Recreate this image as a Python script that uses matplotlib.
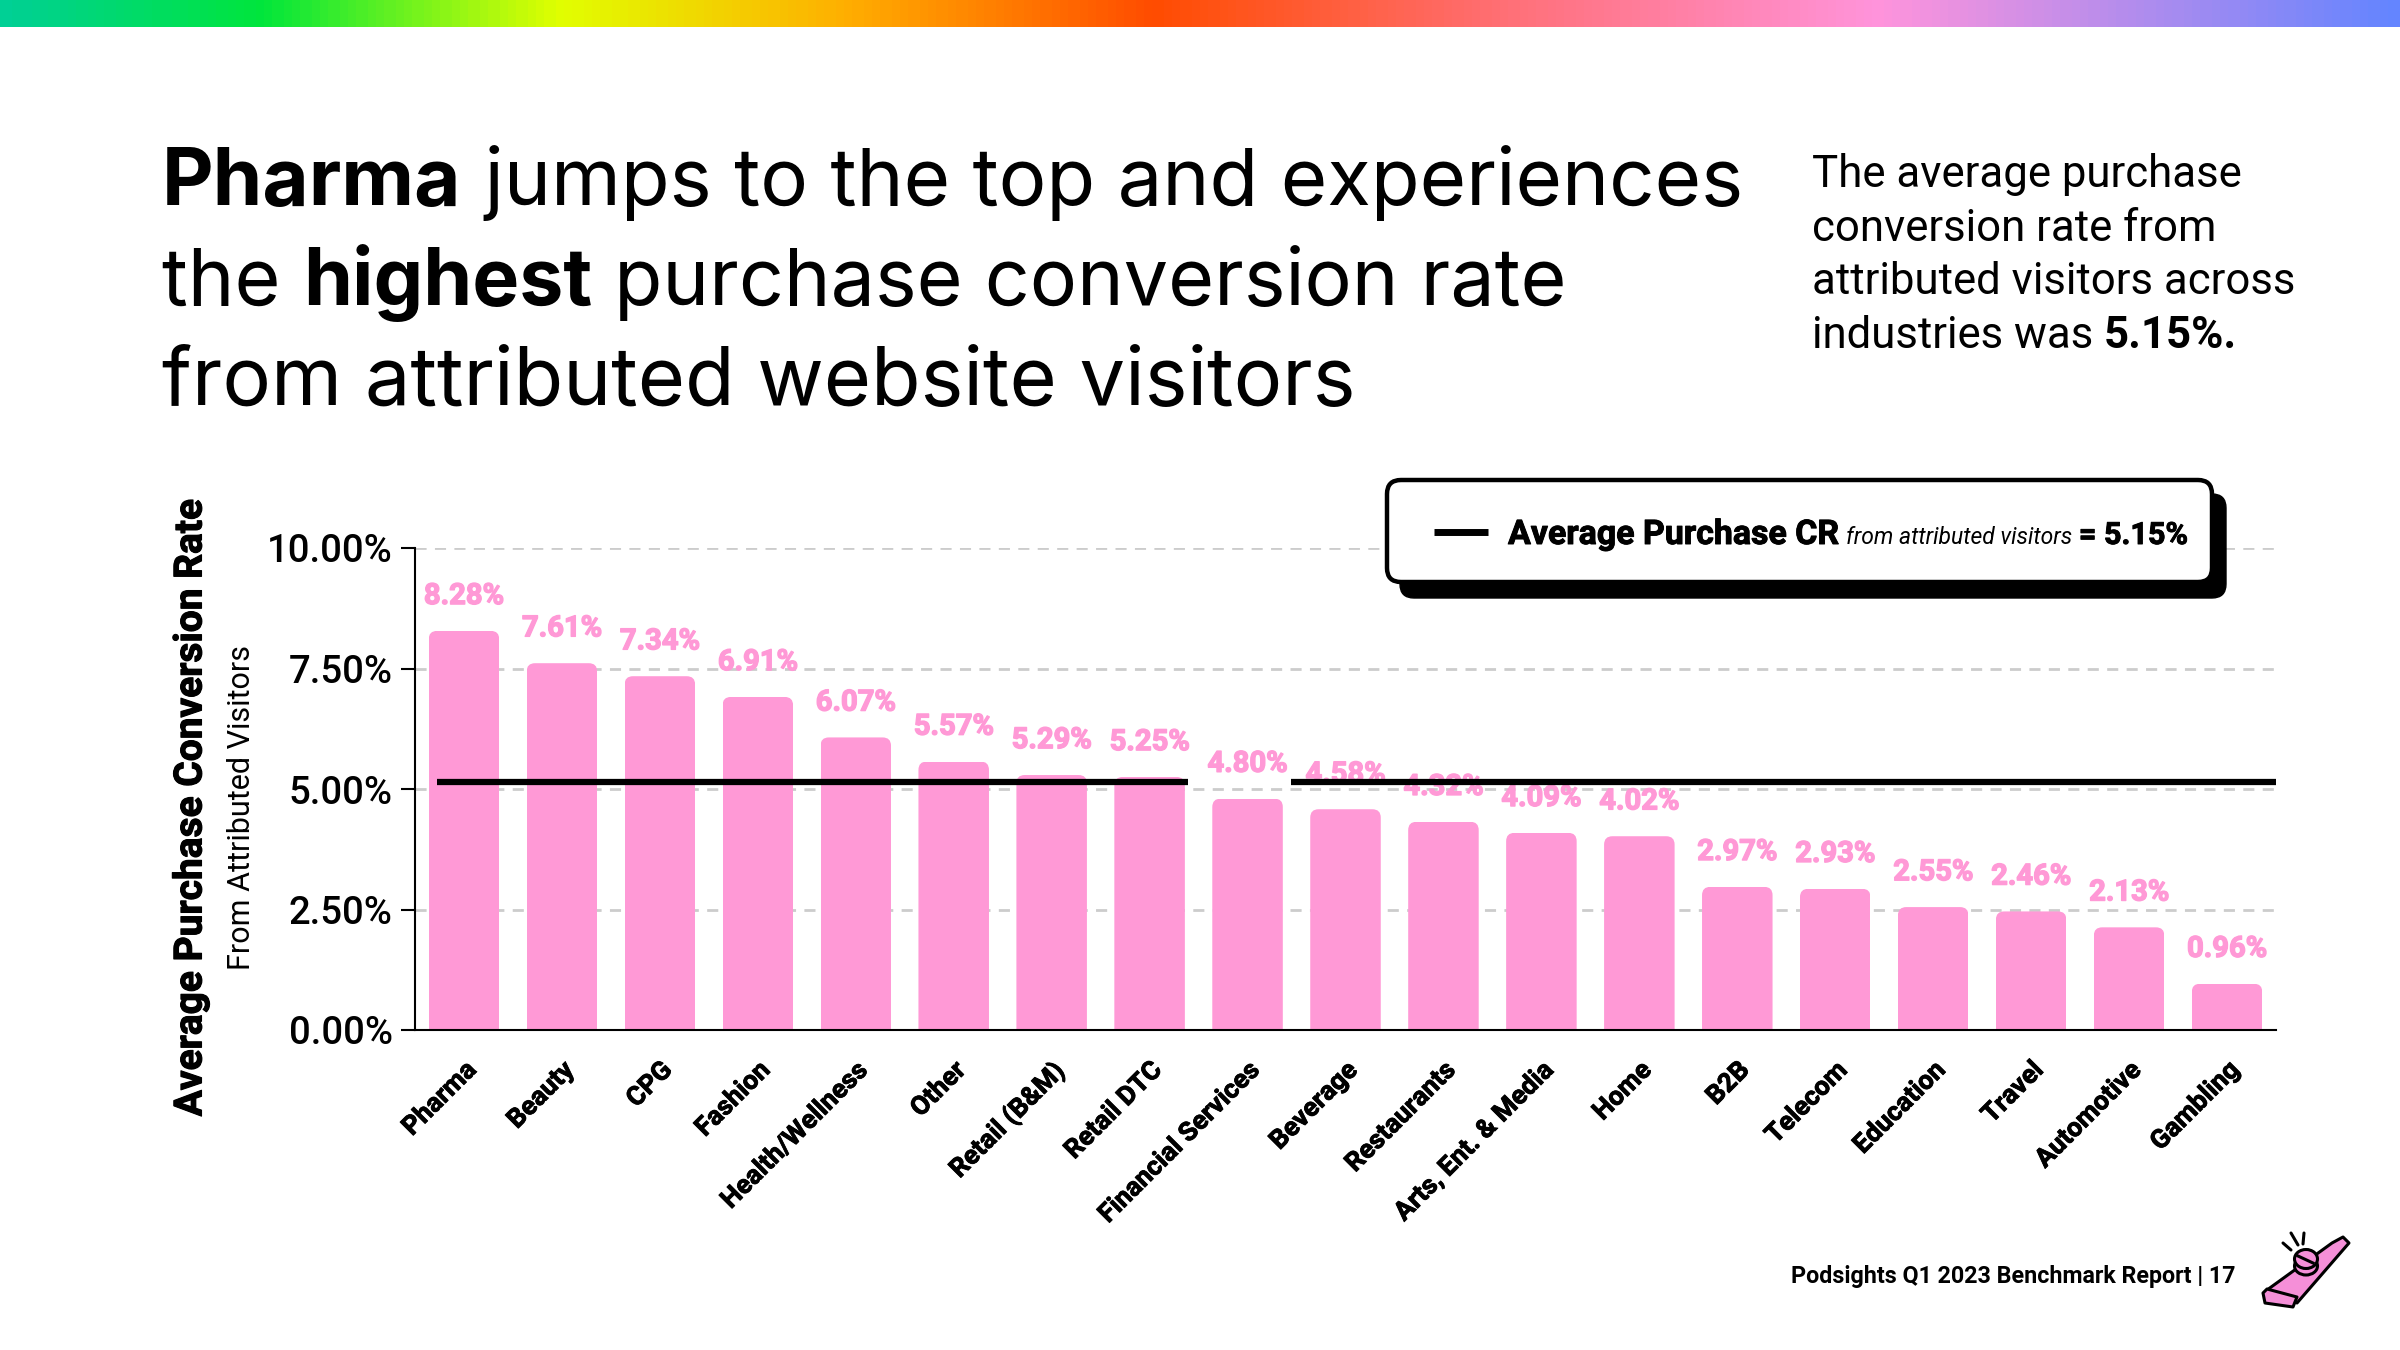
import matplotlib
matplotlib.use("Agg")
import matplotlib.pyplot as plt
import matplotlib.patheffects as pe
import numpy as np
from matplotlib.colors import LinearSegmentedColormap
from matplotlib.patches import FancyBboxPatch, Polygon, Ellipse

FONT = "Inter"
TIGHT_FONT = "Roboto"
PINK = "#FF99D6"
INK = "#000000"
GRID_COLOR = "#CCCCCC"

industries = ["Pharma", "Beauty", "CPG", "Fashion", "Health/Wellness", "Other",
              "Retail (B&M)", "Retail DTC", "Financial Services", "Beverage",
              "Restaurants", "Arts, Ent. & Media", "Home", "B2B", "Telecom",
              "Education", "Travel", "Automotive", "Gambling"]
purchase_cr = [8.28, 7.61, 7.34, 6.91, 6.07, 5.57, 5.29, 5.25, 4.80, 4.58,
               4.32, 4.09, 4.02, 2.97, 2.93, 2.55, 2.46, 2.13, 0.96]
average_cr = 5.15
y_ticks = [0, 2.5, 5, 7.5, 10]

plt.rcParams["font.family"] = [FONT, "DejaVu Sans"]

fig = plt.figure(figsize=(24, 13.5), dpi=100, facecolor="white")

# page overlay in pixel coordinates, y going down
page = fig.add_axes([0, 0, 1, 1], zorder=5)
page.set_xlim(0, 2400)
page.set_ylim(1350, 0)
page.axis("off")
page.patch.set_alpha(0)

rainbow = LinearSegmentedColormap.from_list("rainbow", [
    (0.0, "#00D095"), (0.107, "#00E63C"), (0.232, "#E2FF00"), (0.35, "#FFB000"),
    (0.48, "#FF4C00"), (0.63, "#FF7078"), (0.785, "#FF94DC"), (1.0, "#6485FF")])
page.imshow(np.linspace(0, 1, 600).reshape(1, -1), cmap=rainbow, aspect="auto",
            extent=(0, 2400, 27, 0), zorder=1)
page.set_xlim(0, 2400)
page.set_ylim(1350, 0)


def write_runs(x, y, runs, family=FONT, stroke=0):
    # runs of (text, weight, size, style) laid out one after the other
    renderer = fig.canvas.get_renderer()
    for text, weight, size, style in runs:
        t = page.text(x, y, text, fontsize=size, fontweight=weight, fontstyle=style,
                      family=family, color=INK, ha="left", va="baseline", zorder=6)
        if stroke:
            t.set_path_effects([pe.withStroke(linewidth=stroke, foreground=INK)])
        x += t.get_window_extent(renderer).width
    return x


write_runs(162, 205, [("Pharma", "bold", 57.5, "normal"),
                      (" jumps to the top and experiences", "normal", 57.5, "normal")])
write_runs(162, 305, [("the ", "normal", 56.8, "normal"), ("highest", "bold", 56.8, "normal"),
                      (" purchase conversion rate", "normal", 56.8, "normal")])
write_runs(162, 405, [("from attributed website visitors", "normal", 58.4, "normal")])

SIDE_SIZE = 31.5
write_runs(1812, 187, [("The average purchase", "normal", SIDE_SIZE, "normal")], TIGHT_FONT)
write_runs(1812, 241, [("conversion rate from", "normal", SIDE_SIZE, "normal")], TIGHT_FONT)
write_runs(1812, 294, [("attributed visitors across", "normal", SIDE_SIZE, "normal")], TIGHT_FONT)
write_runs(1812, 348, [("industries was ", "normal", SIDE_SIZE, "normal"),
                       ("5.15%.", "bold", SIDE_SIZE, "normal")], TIGHT_FONT)

# chart
ax = fig.add_axes([415 / 2400, 1 - 1030 / 1350, (2276 - 415) / 2400, (1030 - 548) / 1350], zorder=2)
x_pos = np.arange(len(industries))
bar_width = 0.72
bars = ax.bar(x_pos, purchase_cr, width=bar_width, color=PINK, zorder=2)
ax.set_xlim(-0.5, len(industries) - 0.5)
ax.set_ylim(0, 10)

# rounded top corners, bottom corners hang below the axis
for bar, value, x in zip(bars, purchase_cr, x_pos):
    rounded = FancyBboxPatch((x - bar_width / 2, -0.5), bar_width, value + 0.5,
                             boxstyle="round,pad=0,rounding_size=0.085",
                             mutation_aspect=2.03, transform=ax.transData)
    bar.set_clip_path(rounded)

for x, value in zip(x_pos, purchase_cr):
    label = ax.annotate(f"{value:.2f}%", (x, value), xytext=(0, 15), textcoords="offset points",
                        ha="center", va="bottom", fontsize=21, fontweight="bold", family=TIGHT_FONT,
                        color=PINK, zorder=3)
    label.set_path_effects([pe.withStroke(linewidth=1, foreground=PINK)])

# average line has a gap above Financial Services
ax.plot([-0.28, 7.39], [average_cr, average_cr], color=INK, linewidth=4.5, solid_capstyle="butt", zorder=4)
ax.plot([8.44, 18.5], [average_cr, average_cr], color=INK, linewidth=4.5, solid_capstyle="butt", zorder=4)

ax.set_yticks(y_ticks)
ax.set_yticklabels([f"{v:.2f}%" for v in y_ticks], fontsize=27.5, fontweight="medium", family=TIGHT_FONT)
ax.set_xticks(x_pos)
ax.set_xticklabels(industries, rotation=45, ha="right", rotation_mode="anchor",
                   fontsize=19, fontweight="bold", family=TIGHT_FONT)
for tick_label in ax.get_xticklabels():
    tick_label.set_path_effects([pe.withStroke(linewidth=0.6, foreground=INK)])
ax.tick_params(axis="y", length=10, width=1.5, pad=6)
ax.tick_params(axis="x", length=0, pad=20)
ax.yaxis.grid(True, color=GRID_COLOR, linestyle=(0, (4, 3)), linewidth=2, zorder=1)
ax.set_axisbelow(True)
for side in ["top", "right"]:
    ax.spines[side].set_visible(False)
for side in ["left", "bottom"]:
    ax.spines[side].set_linewidth(1.5)

y_title = page.text(191, 808, "Average Purchase Conversion Rate", rotation=90, ha="center", va="center",
                    fontsize=28, fontweight="bold", family=TIGHT_FONT, color=INK)
y_title.set_path_effects([pe.withStroke(linewidth=0.8, foreground=INK)])
page.text(242, 808, "From Attributed Visitors", rotation=90, ha="center", va="center",
          fontsize=22, family=TIGHT_FONT, color=INK)

# legend card with hard shadow
page.add_patch(FancyBboxPatch((1400, 494), 826, 104, boxstyle="round,pad=0,rounding_size=14",
                              facecolor=INK, edgecolor=INK, linewidth=1, zorder=3))
page.add_patch(FancyBboxPatch((1387, 480), 825, 102, boxstyle="round,pad=0,rounding_size=14",
                              facecolor="white", edgecolor=INK, linewidth=3.2, zorder=4))
page.plot([1434, 1488], [532, 532], color=INK, linewidth=5, solid_capstyle="butt", zorder=5)
end = write_runs(1508, 544, [("Average Purchase CR", "bold", 24.4, "normal")], TIGHT_FONT, stroke=0.7)
end = write_runs(end + 7, 544, [("from attributed visitors", "normal", 16.5, "italic")], TIGHT_FONT)
write_runs(end + 7, 544, [("= 5.15%", "bold", 22, "normal")], TIGHT_FONT, stroke=0.7)

write_runs(1791, 1283, [("Podsights Q1 2023 Benchmark Report | 17", "bold", 16.75, "normal")], TIGHT_FONT)

# kazoo icon
KAZOO_LW = 2.2
KAZOO_PINK = "#F58FD8"
page.add_patch(Polygon([(2267, 1290), (2332, 1243), (2343, 1237), (2349, 1243), (2297, 1303)],
                       closed=True, facecolor=KAZOO_PINK, edgecolor=INK, linewidth=KAZOO_LW,
                       joinstyle="round", zorder=5))
page.add_patch(Polygon([(2263, 1293), (2267, 1289), (2297, 1297), (2293, 1307), (2265, 1303)],
                       closed=True, facecolor=KAZOO_PINK, edgecolor=INK, linewidth=KAZOO_LW,
                       joinstyle="round", zorder=6))
page.add_patch(Ellipse((2306, 1266), 23, 18, facecolor=KAZOO_PINK, edgecolor=INK,
                       linewidth=KAZOO_LW, zorder=6))
page.add_patch(Ellipse((2306, 1259), 23, 19, facecolor=KAZOO_PINK, edgecolor=INK,
                       linewidth=KAZOO_LW, zorder=7))
page.plot([2298, 2313], [1256, 1263], color=INK, linewidth=KAZOO_LW, zorder=8)
for seg in [((2283, 1243), (2291, 1250)), ((2291, 1233), (2298, 1245)), ((2304, 1233), (2303, 1244))]:
    page.plot(*zip(*seg), color=INK, linewidth=KAZOO_LW, solid_capstyle="round", zorder=8)

fig.savefig("out.png", dpi=100, facecolor="white")
